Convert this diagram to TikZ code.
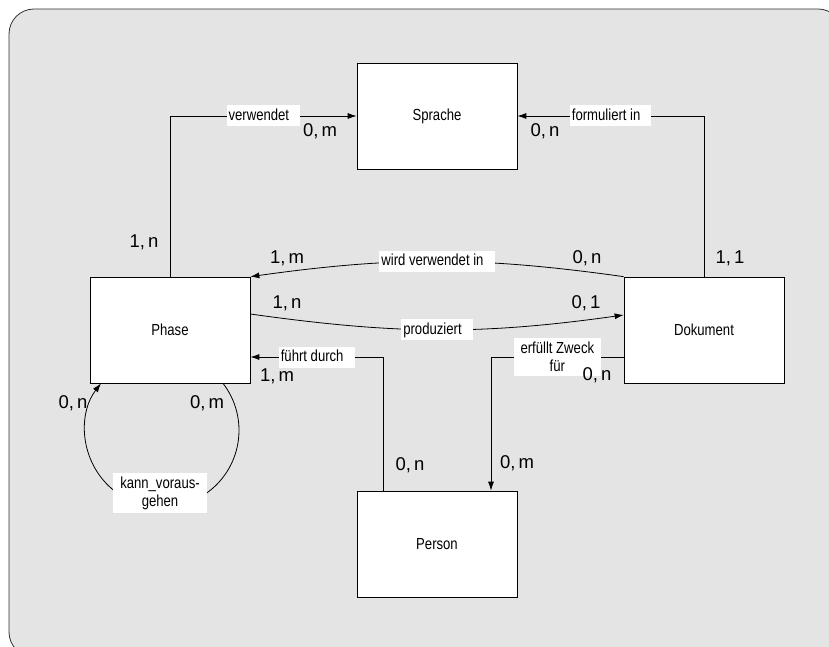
\documentclass[tikz,border=0pt]{standalone}
\usepackage{fontspec}
\setmainfont{Liberation Sans}
\newfontfamily\narrowsans[FakeStretch=0.82]{Liberation Sans}
\usepackage{tikz}
\usetikzlibrary{arrows.meta}
\usetikzlibrary{shadows}
\definecolor{framegray}{HTML}{E4E4E4}

\begin{document}
\begin{tikzpicture}[x=1pt, y=1pt, >={Latex[length=9pt,width=6pt]},
    entity/.style={draw, fill=white, line width=0.7pt,
      minimum width=160pt, minimum height=106pt,
      font=\narrowsans\fontsize{16}{18}\selectfont,
      drop shadow={shadow xshift=1pt, shadow yshift=-1pt, fill=black!45, opacity=1}},
    conn/.style={->, line width=0.8pt},
    rel/.style={fill=white, inner xsep=2pt, inner ysep=3pt,
      text height=12pt, text depth=3pt,
      font=\narrowsans\fontsize{16}{18}\selectfont,
      execute at end node={\hspace*{9pt}}},
    reltwo/.style={fill=white, align=center, inner xsep=7pt, inner ysep=4pt,
      font=\narrowsans\fontsize{16}{18}\selectfont},
    card/.style={inner sep=0pt, font=\fontsize{18.5}{20}\selectfont}]

    \useasboundingbox (0, 0) rectangle (829, 646);

    \draw [rounded corners=25pt, fill=framegray, draw=black!80, line width=0.8pt]
    (9, -11) rectangle (843, 637);

    \node [entity] (sprache) at (437, 530) {Sprache};
    \node [entity] (phase) at (170, 316) {Phase};
    \node [entity] (dok) at (704, 316) {Dokument};
    \node [entity] (person) at (437, 102) {Person};

    \draw [conn] (phase.north) |- node [rel, pos=0.75] (verw) {verwendet} (sprache.west);
    \draw [conn] (dok.north) |- node [rel, pos=0.75] (form) {formuliert in} (sprache.east);

    \draw [conn] (dok.north west) to [out=172, in=8]
    node [rel] (wirdv) {wird verwendet in} (phase.north east);
    \draw [conn] ([yshift=16pt]phase.east) to [out=-8, in=188]
    node [rel] (prod) {produziert} ([yshift=15pt]dok.west);

    \draw [conn] ([xshift=-54pt]person.north) |-
    node [rel, pos=0.75] (fuehrt) {führt durch} ([yshift=-27pt]phase.east);
    \draw [conn] ([yshift=-27pt]dok.west) -|
    node [reltwo, pos=0.25] (zweck) {erfüllt Zweck\\für} ([xshift=54pt]person.north);

    \draw [conn] ([xshift=53pt]phase.south)
    arc [start angle=37.6, end angle=-217.6, radius=77pt];
    \node [reltwo] (voraus) at (160, 153) {kann\_voraus-\\gehen};

    \node [card] (c-verw-ph) at (144, 404) {1,\,n};
    \node [card] (c-verw-sp) at (320, 515) {0,\,m};
    \node [card] (c-form-sp) at (545, 515) {0,\,n};
    \node [card] (c-form-dk) at (730, 388) {1,\,1};
    \node [card] (c-wirdv-ph) at (287, 388) {1,\,m};
    \node [card] (c-wirdv-dk) at (587, 388) {0,\,n};
    \node [card] (c-prod-ph) at (287, 343) {1,\,n};
    \node [card] (c-prod-dk) at (586, 343) {0,\,1};
    \node [card] (c-fuehrt-ph) at (277, 270) {1,\,m};
    \node [card] (c-fuehrt-pe) at (410, 181) {0,\,n};
    \node [card] (c-zweck-dk) at (597, 271) {0,\,n};
    \node [card] (c-zweck-pe) at (517, 183) {0,\,m};
    \node [card] (c-voraus-a) at (73, 243) {0,\,n};
    \node [card] (c-voraus-b) at (207, 243) {0,\,m};

  \end{tikzpicture}
\end{document}
